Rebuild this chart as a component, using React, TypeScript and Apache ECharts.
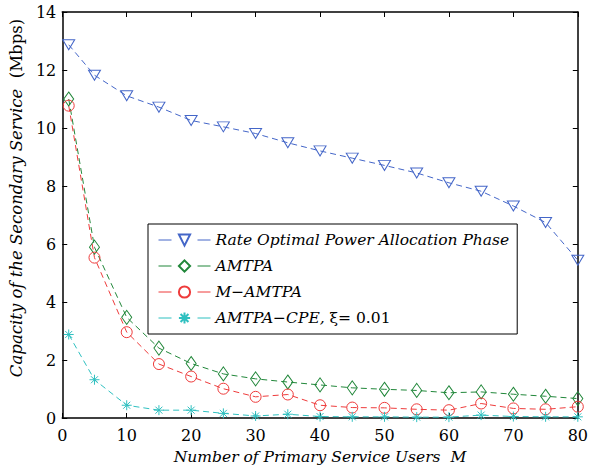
import React, { useEffect, useRef } from "react";
import * as echarts from "echarts";

const users = [1, 5, 10, 15, 20, 25, 30, 35, 40, 45, 50, 55, 60, 65, 70, 75, 80];
const rateOptimal = [12.87, 11.82, 11.11, 10.72, 10.26, 10.04, 9.81, 9.49, 9.21, 8.96, 8.71, 8.45, 8.11, 7.82, 7.31, 6.74, 5.44];
const amtpa = [11.0, 5.89, 3.47, 2.41, 1.88, 1.52, 1.35, 1.24, 1.14, 1.04, 0.99, 0.95, 0.87, 0.9, 0.82, 0.75, 0.67];
const mAmtpa = [10.77, 5.53, 2.96, 1.86, 1.43, 1.01, 0.73, 0.81, 0.44, 0.36, 0.35, 0.3, 0.27, 0.5, 0.33, 0.3, 0.39];
const amtpaCpe = [2.88, 1.32, 0.44, 0.27, 0.27, 0.16, 0.07, 0.13, 0.05, 0.04, 0.04, 0.03, 0.03, 0.1, 0.05, 0.04, 0.04];
const seriesNames = [
  "Rate Optimal Power Allocation Phase",
  "AMTPA",
  "M\u2212AMTPA",
  "AMTPA\u2212CPE, \u03be= 0.01",
];
const xTicks = { min: 0, max: 80, interval: 10 };
const yTicks = { min: 0, max: 14, interval: 2 };

const FONT = "DejaVu Serif";

export default function App() {
  const ref = useRef<HTMLDivElement>(null);
  useEffect(() => {
    if (!ref.current) return;
    const chart = echarts.init(ref.current, null, { renderer: "svg" });
    const pair = (ys: number[]) => users.map((x, i) => [x, ys[i]]);
    const dash = [6, 4];
    const mk = (name: string, ys: number[], color: string, symbol: string, size: any) => ({
      type: "line",
      name,
      data: pair(ys),
      symbol,
      symbolSize: size,
      showSymbol: true,
      lineStyle: { color, width: 1, type: dash },
      itemStyle: { color: "none", borderColor: color, borderWidth: 1 },
      emphasis: { disabled: true },
      z: 3,
    });
    const blue = "#4466c8";
    const green = "#21873a";
    const red = "#ee3b3b";
    const cyan = "#2fc0c0";
    const axisLine = { lineStyle: { color: "#000", width: 1.5 } };
    const tick = { show: true, inside: true, length: 5, lineStyle: { color: "#000" } };
    chart.setOption({
      animation: false,
      backgroundColor: "#fff",
      textStyle: { fontFamily: FONT },
      grid: { left: 57, right: 11, top: 12, bottom: 47, containLabel: false },
      xAxis: [
        {
          type: "value",
          ...xTicks,
          axisLine: { show: true, ...axisLine },
          axisTick: tick,
          axisLabel: { color: "#000", fontFamily: FONT, fontSize: 16, margin: 9 },
          splitLine: { show: false },
          name: "Number of Primary Service Users  M",
          nameLocation: "middle",
          nameGap: 31,
          nameTextStyle: { color: "#000", fontFamily: FONT, fontSize: 15.5, fontStyle: "italic" },
        },
        {
          type: "value",
          position: "top",
          ...xTicks,
          axisLine: { show: true, onZero: false, ...axisLine },
          axisTick: tick,
          axisLabel: { show: false },
          splitLine: { show: false },
        },
      ],
      yAxis: [
        {
          type: "value",
          ...yTicks,
          axisLine: { show: true, ...axisLine },
          axisTick: tick,
          axisLabel: { color: "#000", fontFamily: FONT, fontSize: 16, margin: 6 },
          splitLine: { show: false },
          name: "{i|Capacity of the Secondary Service}  {n|(Mbps)}",
          nameLocation: "middle",
          nameGap: 36,
          nameRotate: 90,
          nameTextStyle: {
            color: "#000",
            fontFamily: FONT,
            fontSize: 16.5,
            padding: [0, 0, 0, 34],
            rich: {
              i: { fontFamily: FONT, fontSize: 16.5, fontStyle: "italic", color: "#000" },
              n: { fontFamily: FONT, fontSize: 16.5, color: "#000" },
            },
          },
        },
        {
          type: "value",
          position: "right",
          ...yTicks,
          axisLine: { show: true, onZero: false, ...axisLine },
          axisTick: tick,
          axisLabel: { show: false },
          splitLine: { show: false },
        },
      ],
      legend: {
        orient: "vertical",
        left: 148,
        top: 224,
        padding: [7, 8, 7, 10],
        itemGap: 8,
        itemWidth: 52,
        itemHeight: 14,
        borderColor: "#000",
        borderWidth: 1,
        backgroundColor: "#fff",
        lineStyle: { type: [13, 26], width: 1 },
        data: seriesNames,
        formatter: (name: string) => {
          if (name === seriesNames[3]) return "{i|AMTPA\u2212CPE,} {n|\u03be= 0.01}";
          return "{i|" + name + "}";
        },
        textStyle: {
          color: "#000",
          fontFamily: FONT,
          fontSize: 15.5,
          lineHeight: 18,
          rich: {
            i: { fontFamily: FONT, fontSize: 15.5, fontStyle: "italic", color: "#000", lineHeight: 18 },
            n: { fontFamily: FONT, fontSize: 15.5, color: "#000", lineHeight: 18 },
          },
        },
      },
      series: [
        mk(seriesNames[0], rateOptimal, blue, "path://M0,0 L12,0 L6,10 Z", [12, 10]),
        mk(seriesNames[1], amtpa, green, "path://M5,0 L10,7 L5,14 L0,7 Z", [10, 14]),
        mk(seriesNames[2], mAmtpa, red, "path://M0,5 A5,5 0 1,0 10,5 A5,5 0 1,0 0,5 Z", [11, 11]),
        mk(seriesNames[3], amtpaCpe, cyan, "path://M5,0 L5,10 M0,5 L10,5 M1.5,1.5 L8.5,8.5 M8.5,1.5 L1.5,8.5", [10, 10]),
      ],
    });
    return () => chart.dispose();
  }, []);
  return <div ref={ref} style={{ width: 591, height: 470, position: "absolute", left: 0, top: 0 }} />;
}
